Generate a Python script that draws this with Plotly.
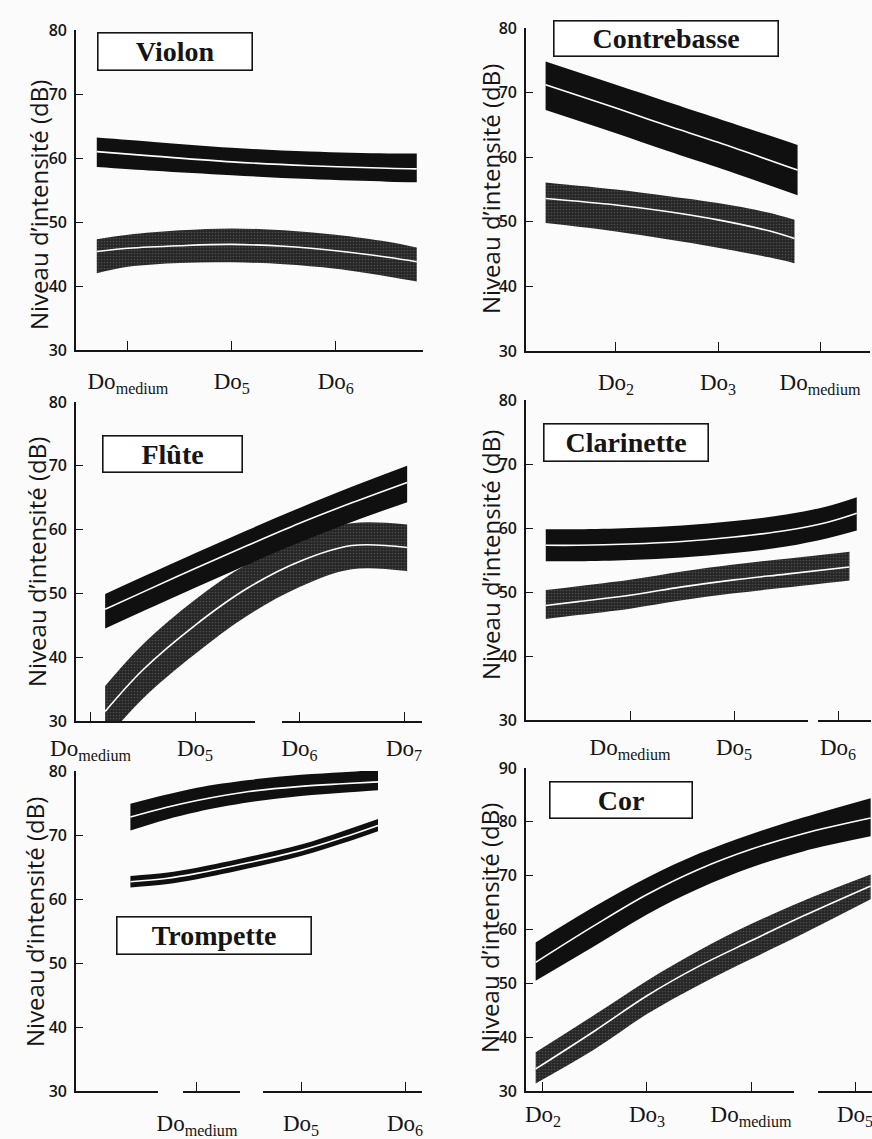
import plotly.graph_objects as go

W, H = 872, 1139

# ---------------- data (x in octaves: 4 = Do medium) ----------------
# Violon
vio_x_f = [3.70, 4.25, 5.0, 5.75, 6.5, 6.78]
vio_top_f = [63.2, 62.5, 61.6, 61.0, 60.7, 60.7]
vio_mid_f = [61.0, 60.3, 59.4, 58.8, 58.4, 58.3]
vio_bot_f = [58.6, 58.0, 57.3, 56.7, 56.3, 56.2]
vio_x_p = [3.70, 4.0, 4.5, 5.0, 5.5, 6.0, 6.5, 6.78]
vio_top_p = [47.3, 48.0, 48.7, 49.0, 48.7, 48.0, 46.9, 46.0]
vio_mid_p = [45.4, 45.9, 46.3, 46.5, 46.2, 45.5, 44.5, 43.8]
vio_bot_p = [42.0, 43.0, 43.6, 43.7, 43.4, 42.7, 41.5, 40.7]

# Contrebasse
cb_x_f = [1.31, 2.0, 2.5, 3.0, 3.78]
cb_top_f = [74.8, 71.2, 68.6, 66.0, 61.9]
cb_mid_f = [71.2, 67.6, 64.9, 62.3, 58.0]
cb_bot_f = [67.3, 63.7, 61.0, 58.4, 54.1]
cb_x_p = [1.31, 2.0, 2.5, 3.0, 3.5, 3.75]
cb_top_p = [56.1, 55.0, 54.0, 52.9, 51.4, 50.3]
cb_mid_p = [53.6, 52.6, 51.6, 50.3, 48.6, 47.4]
cb_bot_p = [49.8, 48.5, 47.3, 46.0, 44.5, 43.6]

# Flute
fl_x_f = [4.14, 4.5, 5.0, 5.5, 6.0, 6.5, 7.03]
fl_top_f = [49.9, 52.6, 56.3, 59.9, 63.4, 66.7, 70.0]
fl_mid_f = [47.5, 50.2, 53.9, 57.5, 61.0, 64.2, 67.4]
fl_bot_f = [44.5, 47.2, 50.9, 54.5, 58.0, 61.2, 64.3]
fl_x_p = [4.14, 4.5, 5.0, 5.5, 6.0, 6.5, 7.03]
fl_top_p = [35.5, 42.0, 49.0, 54.6, 58.6, 61.0, 60.8]
fl_mid_p = [31.5, 38.0, 45.0, 50.8, 55.0, 57.5, 57.2]
fl_bot_p = [27.0, 33.5, 40.5, 46.5, 51.0, 53.8, 53.5]

# Clarinette
cl_x_f = [3.19, 3.5, 4.0, 4.5, 5.0, 5.5, 5.9, 6.18]
cl_top_f = [59.8, 59.8, 60.0, 60.4, 61.1, 62.1, 63.4, 64.8]
cl_mid_f = [57.3, 57.3, 57.5, 57.9, 58.6, 59.6, 60.9, 62.3]
cl_bot_f = [54.8, 54.8, 55.0, 55.4, 56.1, 57.1, 58.4, 59.6]
cl_x_p = [3.19, 3.5, 4.0, 4.5, 5.0, 5.5, 6.11]
cl_top_p = [50.3, 50.9, 51.9, 53.2, 54.3, 55.2, 56.3]
cl_mid_p = [47.9, 48.5, 49.5, 50.8, 51.9, 52.8, 53.9]
cl_bot_p = [45.8, 46.4, 47.4, 48.7, 49.8, 50.7, 51.8]

# Trompette
tr_x_f = [3.36, 3.7, 4.0, 4.5, 5.0, 5.4, 5.74]
tr_top_f = [74.9, 76.3, 77.4, 78.6, 79.4, 79.8, 80.2]
tr_mid_f = [72.8, 74.3, 75.4, 76.8, 77.6, 78.0, 78.3]
tr_bot_f = [70.7, 72.4, 73.6, 75.1, 76.1, 76.6, 77.0]
tr_x_p = [3.36, 3.7, 4.0, 4.5, 5.0, 5.4, 5.74]
tr_top_p = [63.6, 64.1, 64.9, 66.6, 68.5, 70.6, 72.5]
tr_mid_p = [62.7, 63.2, 64.0, 65.7, 67.6, 69.6, 71.5]
tr_bot_p = [61.8, 62.3, 63.1, 64.8, 66.7, 68.7, 70.6]

# Cor
cor_x_f = [1.93, 2.5, 3.0, 3.5, 4.0, 4.5, 5.15]
cor_top_f = [57.6, 64.3, 69.6, 74.1, 77.7, 80.8, 84.4]
cor_mid_f = [53.9, 60.8, 66.5, 71.2, 74.9, 77.8, 80.7]
cor_bot_f = [50.5, 57.0, 62.8, 67.6, 71.5, 74.5, 77.3]
cor_x_p = [1.93, 2.5, 3.0, 3.5, 4.0, 4.5, 5.15]
cor_top_p = [37.2, 44.2, 50.5, 56.1, 61.0, 65.3, 70.2]
cor_mid_p = [34.1, 41.2, 47.7, 53.2, 57.9, 62.5, 68.1]
cor_bot_p = [31.4, 37.8, 44.3, 49.7, 54.5, 59.2, 65.6]

MED = "Do<sub>medium</sub>"
panels = [
    dict(name="Violon", px=(76, 423), py=(30, 350), xr=(3.50, 6.84), yr=(30, 80),
         tickvals=[4, 5, 6, 6.84], ticktext=[MED, "Do<sub>5</sub>", "Do<sub>6</sub>", ""],
         bands=[(vio_x_p, vio_top_p, vio_mid_p, vio_bot_p, True),
                (vio_x_f, vio_top_f, vio_mid_f, vio_bot_f, False)],
         box=(97, 253, 32, 71), ytitle=(38, 205), standoff=10, gaps=[]),
    dict(name="Contrebasse", px=(526, 870), py=(28, 351), xr=(1.118, 4.49), yr=(30, 80),
         tickvals=[2, 3, 4, 4.49], ticktext=["Do<sub>2</sub>", "Do<sub>3</sub>", MED, ""],
         bands=[(cb_x_p, cb_top_p, cb_mid_p, cb_bot_p, True),
                (cb_x_f, cb_top_f, cb_mid_f, cb_bot_f, False)],
         box=(553, 779, 20, 57), ytitle=(490, 189), standoff=10, gaps=[]),
    dict(name="Flûte", px=(76, 422), py=(402, 721), xr=(3.861, 7.172), yr=(30, 80),
         tickvals=[4, 5, 6, 7, 7.172], ticktext=[MED, "Do<sub>5</sub>", "Do<sub>6</sub>", "Do<sub>7</sub>", ""],
         bands=[(fl_x_p, fl_top_p, fl_mid_p, fl_bot_p, True),
                (fl_x_f, fl_top_f, fl_mid_f, fl_bot_f, False)],
         box=(102, 243, 435, 473), ytitle=(36, 562), standoff=6, gaps=[(255, 282)]),
    dict(name="Clarinette", px=(526, 871), py=(400, 720), xr=(3.0, 6.317), yr=(30, 80),
         tickvals=[4, 5, 6, 6.317], ticktext=[MED, "Do<sub>5</sub>", "Do<sub>6</sub>", ""],
         bands=[(cl_x_p, cl_top_p, cl_mid_p, cl_bot_p, True),
                (cl_x_f, cl_top_f, cl_mid_f, cl_bot_f, False)],
         box=(543, 709, 423, 462), ytitle=(490, 555), standoff=6, gaps=[(808, 818)]),
    dict(name="Trompette", px=(76, 422), py=(771, 1091), xr=(2.837, 6.163), yr=(30, 80),
         tickvals=[4, 5, 6, 6.163], ticktext=[MED, "Do<sub>5</sub>", "Do<sub>6</sub>", ""],
         bands=[(tr_x_p, tr_top_p, tr_mid_p, tr_bot_p, False),
                (tr_x_f, tr_top_f, tr_mid_f, tr_bot_f, False)],
         box=(116, 312, 916, 955), ytitle=(34, 922), standoff=11, gaps=[(158, 183), (240, 263)]),
    dict(name="Cor", px=(526, 872), py=(768, 1091), xr=(1.837, 5.163), yr=(30, 90),
         tickvals=[2, 3, 4, 5], ticktext=["Do<sub>2</sub>", "Do<sub>3</sub>", MED, "Do<sub>5</sub>"],
         bands=[(cor_x_p, cor_top_p, cor_mid_p, cor_bot_p, True),
                (cor_x_f, cor_top_f, cor_mid_f, cor_bot_f, False)],
         box=(549, 693, 781, 819), ytitle=(489, 928), standoff=2, gaps=[(794, 818)]),
]

INK = "#151515"
BG = "#fbfbfb"
fig = go.Figure()
layout = dict(width=W, height=H, margin=dict(l=0, r=0, t=0, b=0, autoexpand=False),
              paper_bgcolor=BG, plot_bgcolor=BG, showlegend=False)
annotations = []
shapes = []

for i, p in enumerate(panels, start=1):
    xa = "x" if i == 1 else f"x{i}"
    ya = "y" if i == 1 else f"y{i}"
    for (bx, btop, bmid, bbot, stip) in p["bands"]:
        fig.add_trace(go.Scatter(x=bx, y=bbot, mode="lines", line=dict(width=0, shape="spline", color=INK),
                                 xaxis=xa, yaxis=ya, hoverinfo="skip"))
        kw = dict(fill="tonexty", fillcolor="#101010")
        if stip:
            kw = dict(fill="tonexty", fillcolor="#2c2c2c",
                      fillpattern=dict(shape=".", bgcolor="#262626", fgcolor="#6e6e6e", size=3, solidity=0.25))
        fig.add_trace(go.Scatter(x=bx, y=btop, mode="lines", line=dict(width=0, shape="spline", color=INK),
                                 xaxis=xa, yaxis=ya, hoverinfo="skip", **kw))
        fig.add_trace(go.Scatter(x=bx, y=bmid, mode="lines", line=dict(width=1.6, shape="spline", color="#ffffff"),
                                 xaxis=xa, yaxis=ya, hoverinfo="skip"))
    x0, x1 = p["px"]
    yt, yb = p["py"]
    layout["xaxis" if i == 1 else f"xaxis{i}"] = dict(
        domain=[x0 / W, x1 / W], range=list(p["xr"]), anchor=ya, automargin=False,
        showline=True, linecolor=INK, linewidth=1.6, showgrid=False, zeroline=False,
        ticks="inside", ticklen=9, tickwidth=1.4, tickcolor=INK,
        tickmode="array", tickvals=p["tickvals"], ticktext=p["ticktext"],
        tickfont=dict(family="Liberation Serif", size=23, color=INK),
        ticklabelstandoff=p["standoff"], ticklabeloverflow="allow", fixedrange=True)
    ymax = p["yr"][1]
    layout["yaxis" if i == 1 else f"yaxis{i}"] = dict(
        domain=[1 - yb / H, 1 - yt / H], range=list(p["yr"]), anchor=xa, automargin=False,
        showline=True, linecolor=INK, linewidth=1.6, showgrid=False, zeroline=False,
        ticks="inside", ticklen=7, tickwidth=1.4, tickcolor=INK,
        tickmode="array", tickvals=list(range(30, ymax + 1, 10)),
        tickfont=dict(family="Open Sans", size=16, color=INK, weight=600),
        ticklabelstandoff=4, fixedrange=True)
    bx0, bx1, by0, by1 = p["box"]
    annotations.append(dict(
        xref="paper", yref="paper", x=(bx0 + bx1) / 2 / W, y=1 - (by0 + by1) / 2 / H,
        xanchor="center", yanchor="middle", showarrow=False,
        text=f"<b>{p['name']}</b>", font=dict(family="Liberation Serif", size=28, color=INK),
        width=bx1 - bx0 - 3, height=by1 - by0 - 3, borderpad=0,
        bordercolor=INK, borderwidth=1.6, bgcolor="#ffffff"))
    tx, ty = p["ytitle"]
    annotations.append(dict(
        xref="paper", yref="paper", x=tx / W, y=1 - ty / H, xanchor="center", yanchor="middle",
        showarrow=False, textangle=-90, text="Niveau d’intensité (dB)",
        font=dict(family="Open Sans", size=24, color=INK)))
    # small breaks in the printed x axis line (as in the scanned original)
    for g0, g1 in p["gaps"]:
        shapes.append(dict(type="rect", xref="paper", yref="paper", layer="above",
                           x0=g0 / W, x1=g1 / W, y0=1 - (yb + 2) / H, y1=1 - (yb - 2) / H,
                           fillcolor=BG, line=dict(width=0)))

layout["annotations"] = annotations
layout["shapes"] = shapes
fig.update_layout(**layout)
fig.write_html("out.html", config={"displayModeBar": False},
               post_script="document.body.style.margin='0';document.body.style.padding='0';")
